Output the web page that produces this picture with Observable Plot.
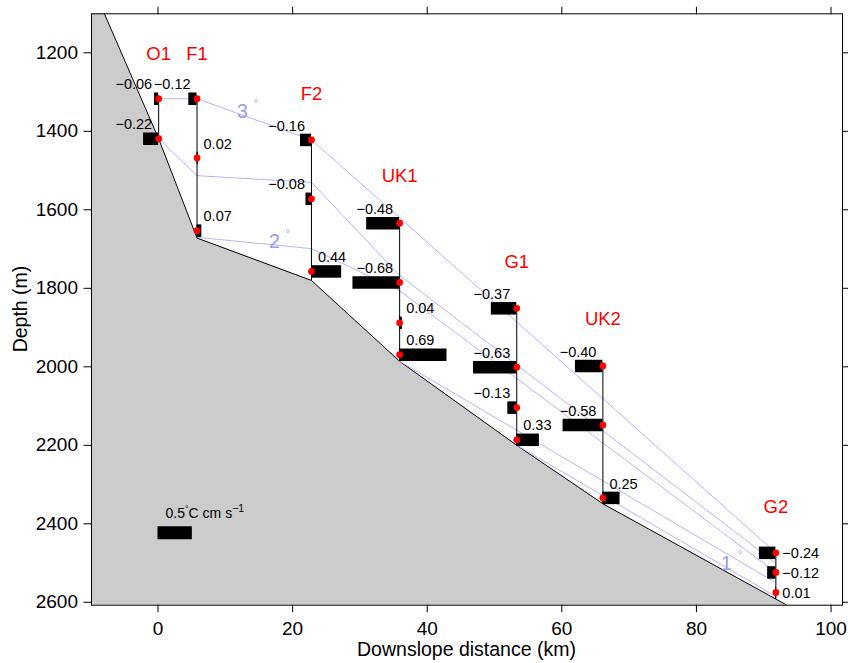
<!DOCTYPE html>
<html>
<head>
<meta charset="utf-8">
<script src="https://cdn.jsdelivr.net/npm/d3@7"></script>
<script src="https://cdn.jsdelivr.net/npm/@observablehq/plot@0.6"></script>
<style>
  body { margin: 0; background: #fff; }
  #chart svg { font-family: "Liberation Sans", Arial, sans-serif; }
</style>
</head>
<body>
<div id="chart"></div>
<script>
// Mooring stations along the downslope section
const stationNames = ["O1", "F1", "F2", "UK1", "G1", "UK2", "G2"];
const stationKm = [0.1, 5.8, 22.8, 35.9, 53.3, 66.1, 91.8];
const stationBottom = [1419, 1672, 1780, 1986, 2200, 2349, 2591];
const stationLabelDepth = [1202, 1202, 1306, 1515, 1734, 1879, 2357];

// Current-meter instruments: station, depth (m), heat flux (°C cm s-1)
const instStation = ["O1","O1","F1","F1","F1","F2","F2","F2","UK1","UK1","UK1","UK1","G1","G1","G1","G1","UK2","UK2","UK2","G2","G2","G2"];
const instDepth = [1317,1419,1317,1468,1653,1422,1572,1757,1634,1785,1888,1969,1851,2001,2104,2186,1998,2148,2334,2474,2524,2575];
const instFlux = [-0.06,-0.22,-0.12,0.02,0.07,-0.16,-0.08,0.44,-0.48,-0.68,0.04,0.69,-0.37,-0.63,-0.13,0.33,-0.40,-0.58,0.25,-0.24,-0.12,0.01];

// Seabed profile
const bathyKm = [-10, 0.1, 5.8, 22.8, 35.9, 53.3, 66.1, 93.4, 103];
const bathyDepth = [1020, 1419, 1672, 1780, 1986, 2200, 2349, 2607, 2697];

// Isotherms (°C)
const iso3Km = [0.1, 5.8, 22.8, 35.9, 91.8];
const iso3Depth = [1317, 1317, 1422, 1620, 2474];
const iso25Km = [0.1, 5.8, 22.8, 35.9, 91.8];
const iso25Depth = [1419, 1513, 1530, 1767, 2500];
const iso2Km = [5.8, 22.8, 35.9, 91.8];
const iso2Depth = [1670, 1699, 1806, 2524];
const iso15Km = [35.9, 91.8];
const iso15Depth = [1986, 2550];
const iso1Km = [53.3, 91.8];
const iso1Depth = [2200, 2585];

// Isotherm labels
const isoLabelText = ["3", "2", "1"];
const isoLabelKm = [12.56, 17.28, 84.44];
const isoLabelDepth = [1350, 1682, 2501];

// Scale bar
const legendFlux = 0.5;
const legendKm = 0;
const legendDepth = 2423;

// Axis ticks
const xTicks = [0, 20, 40, 60, 80, 100];
const yTicks = [1200, 1400, 1600, 1800, 2000, 2200, 2400, 2600];

const kmPerFlux = 10.2; // horizontal length of a unit flux bar (km)

const kmOf = Object.fromEntries(stationNames.map((s, i) => [s, stationKm[i]]));
const inst = instStation.map((s, i) => ({
  station: s, km: kmOf[s], depth: instDepth[i], flux: instFlux[i],
  end: kmOf[s] + instFlux[i] * kmPerFlux
}));
const stations = stationNames.map((s, i) => ({
  name: s, km: stationKm[i], bottom: stationBottom[i], labelDepth: stationLabelDepth[i],
  top: d3.min(inst.filter(d => d.station === s), d => d.depth)
}));
const bathy = bathyKm.map((k, i) => ({km: k, depth: bathyDepth[i]}));
const isoSets = [
  ["3", iso3Km, iso3Depth], ["2.5", iso25Km, iso25Depth], ["2", iso2Km, iso2Depth],
  ["1.5", iso15Km, iso15Depth], ["1", iso1Km, iso1Depth]
];
const iso = isoSets.flatMap(([t, ks, ds]) => ks.map((k, i) => ({t, km: k, depth: ds[i]})));
const isoLabels = isoLabelText.map((t, i) => ({t, km: isoLabelKm[i], depth: isoLabelDepth[i]}));

const fmt = d3.format(".2f");
const mainInst = inst.filter(d => d.station !== "G2");
const g2Inst = inst.filter(d => d.station === "G2");
const isoColor = "#adadf4";

const chart = Plot.plot({
  width: 848,
  height: 663,
  marginLeft: 91,
  marginRight: 6,
  marginTop: 13.3,
  marginBottom: 58.3,
  style: {fontFamily: "Liberation Sans, Arial, sans-serif", fontSize: "14.5px", background: "#fff"},
  x: {domain: [-9.88, 101.7], axis: null},
  y: {domain: [1100.6, 2607.4], reverse: true, axis: null},
  marks: [
    Plot.areaY(bathy, {x: "km", y1: "depth", y2: 2800, fill: "#cccccc", clip: true}),
    Plot.line(bathy, {x: "km", y: "depth", stroke: "black", strokeWidth: 1, clip: true}),
    Plot.line(iso, {x: "km", y: "depth", z: "t", stroke: isoColor, strokeWidth: 0.9}),
    Plot.ruleX(stations, {x: "km", y1: "top", y2: "bottom", stroke: "black", strokeWidth: 1}),
    Plot.ruleY(inst, {y: "depth", x1: "km", x2: "end", stroke: "black", strokeWidth: 12.5}),
    Plot.dot(inst, {x: "km", y: "depth", r: 3.4, fill: "#ff0000"}),
    Plot.text(mainInst.filter(d => d.flux < 0), {x: "km", y: "depth", text: d => fmt(d.flux), textAnchor: "end", dx: -6.5, dy: -14, fill: "black"}),
    Plot.text(mainInst.filter(d => d.flux >= 0), {x: "km", y: "depth", text: d => fmt(d.flux), textAnchor: "start", dx: 6.5, dy: -14, fill: "black"}),
    Plot.text(g2Inst, {x: "km", y: "depth", text: d => fmt(d.flux), textAnchor: "start", dx: 6.5, dy: 0.5, fill: "black"}),
    Plot.text(stations, {x: "km", y: "labelDepth", text: "name", fill: "#ff0000", fontSize: 18.5}),
    Plot.text(isoLabels, {x: "km", y: "depth", text: "t", fill: "#9a9af0", fontSize: 19.5}),
    Plot.text(isoLabels, {x: "km", y: "depth", text: () => "°", fill: "#9a9af0", fontSize: 11, dx: 13.5, dy: -8.5}),
    Plot.ruleY([legendDepth], {x1: legendKm, x2: legendKm + legendFlux * kmPerFlux, stroke: "black", strokeWidth: 13}),
    Plot.text([legendDepth], {x: legendKm, y: d => d, text: () => "0.5°C cm s-1", textAnchor: "start", dx: 7.5, dy: -19, fontSize: 14}),
    Plot.frame({stroke: "black", strokeWidth: 1}),
    Plot.axisX(xTicks, {anchor: "bottom", tickSize: 7.5, tickPadding: 8.5, fontSize: 19, label: null, tickFormat: d => String(d)}),
    Plot.axisX(xTicks, {anchor: "top", tickSize: 7.5, tickFormat: () => "", label: null}),
    Plot.axisY(yTicks, {anchor: "left", tickSize: 7.5, tickPadding: 6, fontSize: 19, label: null, tickFormat: d => String(d)}),
    Plot.axisY(yTicks, {anchor: "right", tickSize: 7.5, tickFormat: () => "", label: null})
  ]
});

const svg = d3.select(chart);
// Axis titles
svg.append("text")
  .attr("x", 466.5).attr("y", 656)
  .attr("text-anchor", "middle")
  .attr("font-size", 19.5)
  .attr("fill", "black")
  .text("Downslope distance (km)");
svg.append("text")
  .attr("transform", "translate(27,309) rotate(-90)")
  .attr("text-anchor", "middle")
  .attr("font-size", 19.5)
  .attr("fill", "black")
  .text("Depth (m)");

// Scale-bar units with raised degree sign and exponent
svg.selectAll("text").filter(function() { return this.textContent === "0.5°C cm s-1"; })
  .each(function() {
    const t = d3.select(this);
    t.text("");
    t.append("tspan").text("0.5");
    t.append("tspan").attr("font-size", 9).attr("dy", -6).text("°");
    t.append("tspan").attr("dy", 6).text("C cm s");
    t.append("tspan").attr("font-size", 10.5).attr("dy", -6).text("−1");
  });

document.getElementById("chart").append(chart);
</script>
</body>
</html>
